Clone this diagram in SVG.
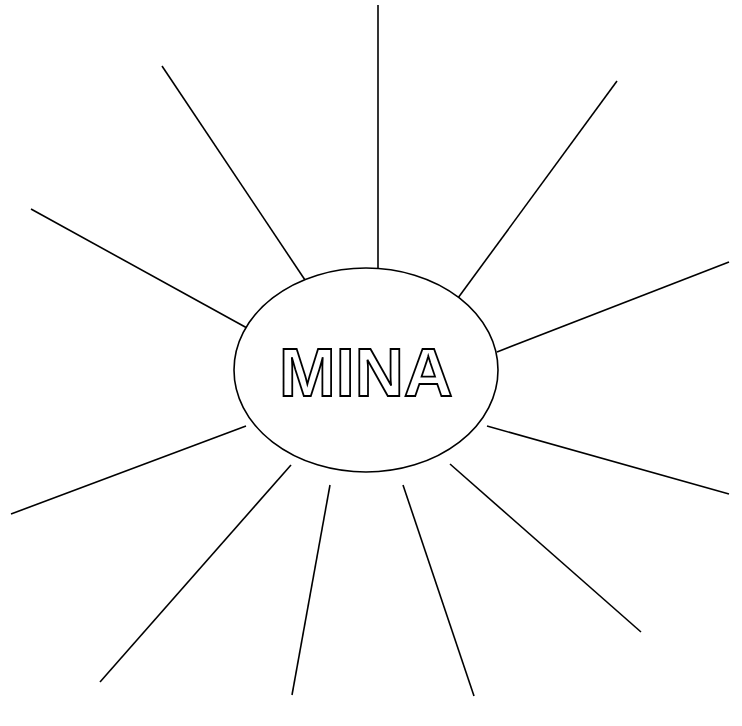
<svg xmlns="http://www.w3.org/2000/svg" width="742" height="726" viewBox="0 0 742 726">
<style>
.ln{stroke:#000;stroke-width:1.6;fill:none}
.node{fill:#fff;stroke:#000;stroke-width:1.6}
.lbl{font-family:"Liberation Sans",Arial,sans-serif;font-weight:bold;font-size:68px;fill:#fff;stroke:#000;stroke-width:1.8;text-anchor:middle}
</style>
<rect width="742" height="726" fill="#fff"/>
<g id="connectors">
<line class="ln" x1="378" y1="5" x2="378" y2="269"/>
<line class="ln" x1="162" y1="66" x2="305" y2="280"/>
<line class="ln" x1="31" y1="209" x2="247" y2="328"/>
<line class="ln" x1="617" y1="81" x2="458" y2="298"/>
<line class="ln" x1="729" y1="262" x2="497" y2="352"/>
<line class="ln" x1="11" y1="514" x2="246" y2="426"/>
<line class="ln" x1="100" y1="682" x2="291" y2="465"/>
<line class="ln" x1="292" y1="695" x2="330" y2="485"/>
<line class="ln" x1="474" y1="696" x2="403" y2="485"/>
<line class="ln" x1="641" y1="632" x2="450" y2="464"/>
<line class="ln" x1="729" y1="494" x2="487" y2="426"/>
</g>
<g id="mina">
<ellipse class="node" cx="366" cy="370" rx="132" ry="102"/>
<text class="lbl" x="366" y="396">MINA</text>
</g>
</svg>
